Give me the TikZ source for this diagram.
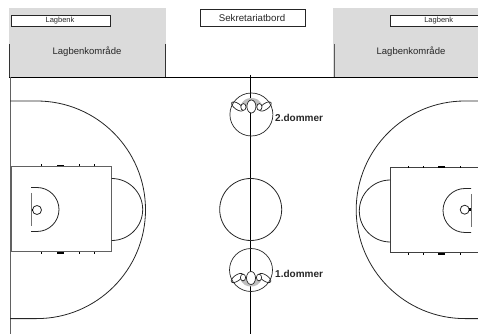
\documentclass[tikz,border=0pt]{standalone}
\usepackage{fontspec}
\setmainfont{Liberation Sans}
\tikzset{
  court/.style={line width=0.8pt,black!85},
  keyline/.style={line width=1pt,black!62},
  heavy/.style={line width=1.1pt,black},
  boxed/.style={draw=black!85,line width=0.8pt,fill=white,inner sep=0pt,anchor=south west},
  benchtext/.style={font=\fontsize{7.5}{8}\selectfont,text=black!85,inner sep=0pt},
  areatext/.style={font=\fontsize{9.5}{10}\selectfont,text=black!85,inner sep=0pt},
  reftext/.style={font=\bfseries\fontsize{10}{11}\selectfont,text=black!85,inner sep=0pt,anchor=west},
  reffig/.pic={
    \fill[black!25] (-11,8) .. controls (-9,15) and (-4,16.5) .. (0,16.5) .. controls (4,16.5) and (9,15) .. (11,8) -- (8,6.5) -- (-8,6.5) -- cycle;
    \draw[line width=0.7pt,black!85] (0,0) circle[radius=21.5];
    \draw[line width=0.7pt,black!85,rotate around={-35:(-14,8)}] (-14,8) ellipse[x radius=6.8,y radius=3];
    \draw[line width=0.7pt,black!85,rotate around={35:(14,8)}] (14,8) ellipse[x radius=6.8,y radius=3];
    \draw[line width=0.7pt,black!85,fill=white] (-8,7.5) ellipse[x radius=2.6,y radius=3.4];
    \draw[line width=0.7pt,black!85,fill=white] (8,7.5) ellipse[x radius=2.6,y radius=3.4];
    \draw[line width=0.7pt,black!85,fill=white] (0,8) ellipse[x radius=4.5,y radius=6.5];
  }
}
\begin{document}
\begin{tikzpicture}[x=1pt,y=1pt]
\useasboundingbox (0,0) rectangle (478,334);
% team areas
\fill[black!14] (9,257) rectangle (165.5,326);
\fill[black!14] (333,257) rectangle (478,326);
\node[boxed,minimum width=99pt,minimum height=11pt] (benchL) at (10.5,307) {};
\node[boxed,minimum width=92pt,minimum height=11pt] (benchR) at (389.5,307) {};
\node[benchtext] (benchLt) at (60,313) {Lagbenk};
\node[benchtext] (benchRt) at (438.7,313) {Lagbenk};
\node[areatext] (areaL) at (87,282.5) {Lagbenkområde};
\node[areatext] (areaR) at (411,282.5) {Lagbenkområde};
\node[boxed,minimum width=104.5pt,minimum height=16.5pt] (table) at (200,307.5) {};
\node[font=\fontsize{9.7}{10}\selectfont,text=black!85,inner sep=0pt] (tablet) at (252,316) {Sekretariatbord};
% boundary
\draw[line width=1pt,black!80] (9.5,290) -- (9.5,257);
\draw[line width=1pt,black!80] (165,290) -- (165,257);
\draw[line width=1pt,black!65] (334.3,290) -- (334.3,257);
\draw[heavy] (9,256.5) -- (478,256.5);
\draw[keyline] (10,257) -- (10,0);
\draw[heavy] (250.7,259) -- (250.7,0);
% centre and referee circles
\draw[court] (250.7,124.5) circle[radius=31];
\path (251.4,219.5) pic[yscale=1] {reffig};
\path (251,64) pic[yscale=-1] {reffig};
\node[reftext] (ref2) at (275,216) {2.dommer};
\node[reftext] (ref1) at (275,60) {1.dommer};
% left half
\draw[court] (10,233) -- (36.7,233) arc[start angle=90,end angle=-90,radius=108.8] -- (10,15.4);
\draw[keyline] (11,82) rectangle (111.7,167.5);
\draw[court] (111.7,155.5) arc[start angle=90,end angle=-90,radius=31];
\draw[court] (31,146.5) -- (37,146.5) arc[start angle=90,end angle=-90,radius=22] -- (31,102.5);
\draw[line width=1pt,black!55] (31,141) -- (31,107.5);
\draw[court,fill=white] (37,124) circle[radius=4.5];
\fill[black] (31.5,122.7) rectangle (33,125.3);
\foreach \tx in {41.7,79.3,94.3}{
  \draw[line width=0.5pt,black] (\tx,82) -- (\tx,80);
  \draw[line width=0.5pt,black] (\tx,167.5) -- (\tx,169.5);
}
\fill[black] (57,80) rectangle (64,82);
\fill[black] (57,167.5) rectangle (64,169);
% right half
\draw[court] (478,233) -- (465,233) arc[start angle=90,end angle=270,radius=108.8] -- (478,15.4);
\draw[line width=1pt,black!75] (478,81) -- (390.3,81) -- (390.3,166) -- (478,166);
\draw[court] (390.3,154) arc[start angle=90,end angle=270,radius=31];
\draw[court] (471,145.5) -- (465,145.5) arc[start angle=90,end angle=270,radius=22] -- (471,101.5);
\draw[line width=1pt,black!55] (471,140) -- (471,107);
\draw[court,fill=white] (464.7,124.3) circle[radius=4.5];
\fill[black] (469.2,123) rectangle (471,125.6);
\foreach \tx in {408,423,460.7}{
  \draw[line width=0.5pt,black] (\tx,81) -- (\tx,79);
  \draw[line width=0.5pt,black] (\tx,166) -- (\tx,168);
}
\fill[black] (438,79) rectangle (445,81);
\fill[black] (438,166) rectangle (445,167.5);
\end{tikzpicture}
\end{document}
